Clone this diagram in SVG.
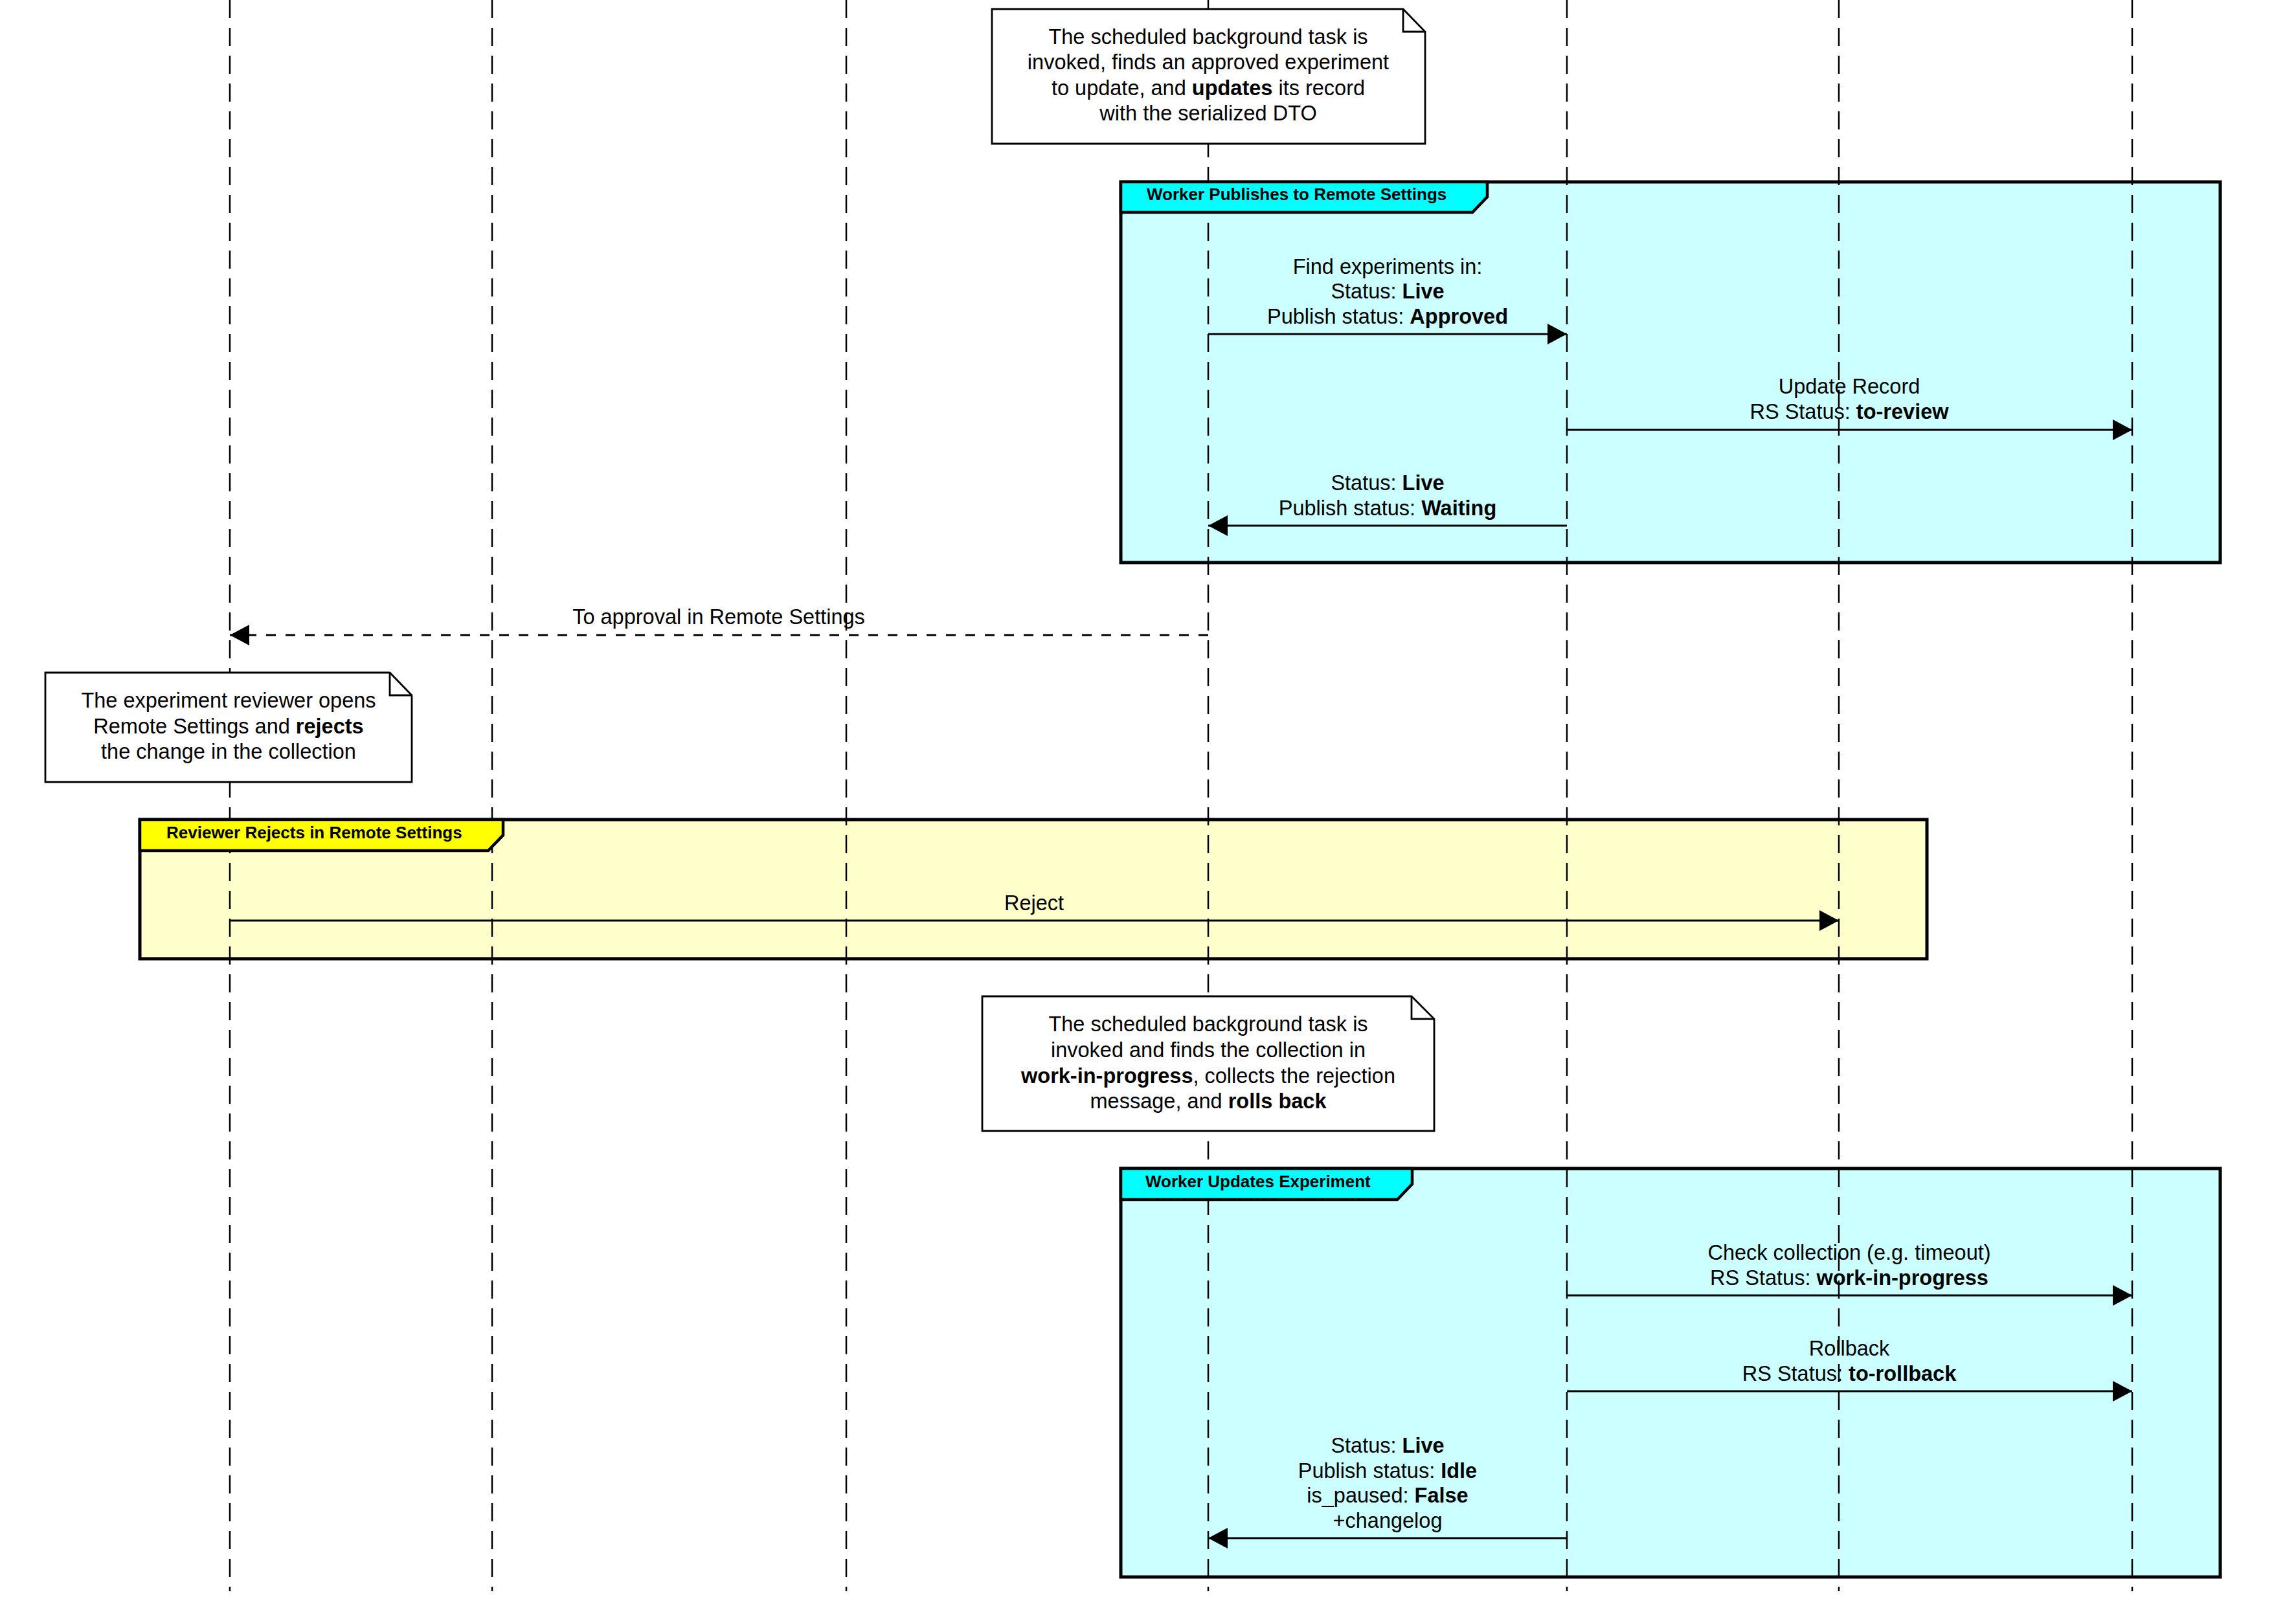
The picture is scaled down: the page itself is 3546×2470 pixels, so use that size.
<svg xmlns="http://www.w3.org/2000/svg" width="3546" height="2470" viewBox="0 0 3546 2470">
<defs>
<style>
text{font-family:"Liberation Sans",Arial,Helvetica,sans-serif;font-size:32.5px;fill:#000;text-anchor:middle}
.b{font-weight:bold}
.tab{font-size:26px;font-weight:bold;text-anchor:start}
.life{stroke:#000;stroke-width:2.5;stroke-dasharray:28 15;fill:none}
.msg{stroke:#000;stroke-width:2.8;fill:none;marker-end:url(#ah)}
.dash{stroke-dasharray:15 15}
.note{fill:#fff;stroke:#000;stroke-width:2.8}
.fold{fill:none;stroke:#000;stroke-width:2.8}
.frame{stroke:#000;stroke-width:5}
.tabshape{stroke:#000;stroke-width:4.5}
</style>
<marker id="ah" viewBox="0 0 30 32" refX="30" refY="16" markerWidth="30" markerHeight="32" markerUnits="userSpaceOnUse" orient="auto">
<path d="M0,0 L30,16 L0,32 Z" fill="#000"/>
</marker>
</defs>
<rect width="3546" height="2470" fill="#fff"/>

<g id="frames-bg">
<rect id="frame1-bg" class="frame" x="1731" y="281" width="1698" height="588" fill="#CCFFFF"/>
<rect id="frame2-bg" class="frame" x="216" y="1266" width="2760" height="215" fill="#FFFFCC"/>
<rect id="frame3-bg" class="frame" x="1731" y="1805" width="1698" height="631" fill="#CCFFFF"/>
</g>

<g id="lifelines">
<line class="life" x1="355" y1="0" x2="355" y2="2458"/>
<line class="life" x1="760" y1="0" x2="760" y2="2458"/>
<line class="life" x1="1307" y1="0" x2="1307" y2="2458"/>
<line class="life" x1="1866" y1="0" x2="1866" y2="2458"/>
<line class="life" x1="2420" y1="0" x2="2420" y2="2458"/>
<line class="life" x1="2840" y1="0" x2="2840" y2="2458"/>
<line class="life" x1="3293" y1="0" x2="3293" y2="2458"/>
</g>

<g id="frame1">
<path class="tabshape" d="M1731,281 L2297,281 L2297,304 L2274,328 L1731,328 Z" fill="#00FFFF"/>
<text class="tab" x="1771" y="309">Worker Publishes to Remote Settings</text>
</g>
<g id="frame2">
<path class="tabshape" d="M216,1266 L777,1266 L777,1290 L754,1314 L216,1314 Z" fill="#FFFF00"/>
<text class="tab" x="257" y="1295">Reviewer Rejects in Remote Settings</text>
</g>
<g id="frame3">
<path class="tabshape" d="M1731,1805 L2181,1805 L2181,1829 L2158,1853 L1731,1853 Z" fill="#00FFFF"/>
<text class="tab" x="1769" y="1834">Worker Updates Experiment</text>
</g>

<g id="note1">
<path class="note" d="M1532,14 L2167,14 L2201,49 L2201,222 L1532,222 Z"/>
<path class="fold" d="M2167,14 L2167,49 L2201,49"/>
<text x="1866" y="68">The scheduled background task is</text>
<text x="1866" y="107">invoked, finds an approved experiment</text>
<text x="1866" y="147">to update, and <tspan class="b">updates</tspan> its record</text>
<text x="1866" y="186">with the serialized DTO</text>
</g>

<g id="note2">
<path class="note" d="M70,1039 L602,1039 L636,1074 L636,1208 L70,1208 Z"/>
<path class="fold" d="M602,1039 L602,1074 L636,1074"/>
<text x="353" y="1093">The experiment reviewer opens</text>
<text x="353" y="1133">Remote Settings and <tspan class="b">rejects</tspan></text>
<text x="353" y="1172">the change in the collection</text>
</g>

<g id="note3">
<path class="note" d="M1517,1539 L2180,1539 L2215,1574 L2215,1747 L1517,1747 Z"/>
<path class="fold" d="M2180,1539 L2180,1574 L2215,1574"/>
<text x="1866" y="1593">The scheduled background task is</text>
<text x="1866" y="1633">invoked and finds the collection in</text>
<text x="1866" y="1673"><tspan class="b">work-in-progress</tspan>, collects the rejection</text>
<text x="1866" y="1712">message, and <tspan class="b">rolls back</tspan></text>
</g>

<g id="connectors">
<line class="msg" x1="1866" y1="516" x2="2420" y2="516"/>
<text x="2143" y="423">Find experiments in:</text>
<text x="2143" y="461">Status: <tspan class="b">Live</tspan></text>
<text x="2143" y="500">Publish status: <tspan class="b">Approved</tspan></text>

<line class="msg" x1="2420" y1="664" x2="3293" y2="664"/>
<text x="2856" y="608">Update Record</text>
<text x="2856" y="647">RS Status: <tspan class="b">to-review</tspan></text>

<line class="msg" x1="2420" y1="812" x2="1866" y2="812"/>
<text x="2143" y="757">Status: <tspan class="b">Live</tspan></text>
<text x="2143" y="796">Publish status: <tspan class="b">Waiting</tspan></text>

<line class="msg dash" x1="1866" y1="981" x2="355" y2="981"/>
<text x="1110" y="964">To approval in Remote Settings</text>

<line class="msg" x1="355" y1="1422" x2="2840" y2="1422"/>
<text x="1597" y="1406">Reject</text>

<line class="msg" x1="2420" y1="2001" x2="3293" y2="2001"/>
<text x="2856" y="1946">Check collection (e.g. timeout)</text>
<text x="2856" y="1985">RS Status: <tspan class="b">work-in-progress</tspan></text>

<line class="msg" x1="2420" y1="2149" x2="3293" y2="2149"/>
<text x="2856" y="2094">Rollback</text>
<text x="2856" y="2133">RS Status: <tspan class="b">to-rollback</tspan></text>

<line class="msg" x1="2420" y1="2376" x2="1866" y2="2376"/>
<text x="2143" y="2244">Status: <tspan class="b">Live</tspan></text>
<text x="2143" y="2283">Publish status: <tspan class="b">Idle</tspan></text>
<text x="2143" y="2321">is_paused: <tspan class="b">False</tspan></text>
<text x="2143" y="2360">+changelog</text>
</g>
</svg>
